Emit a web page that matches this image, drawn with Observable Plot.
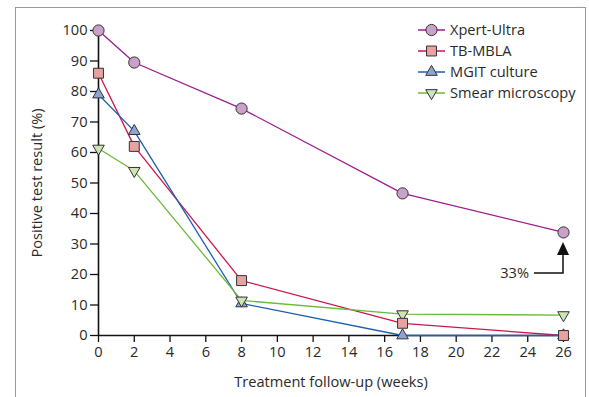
<!DOCTYPE html>
<html><head><meta charset="utf-8">
<script src="https://cdn.jsdelivr.net/npm/d3@7"></script>
<script src="https://cdn.jsdelivr.net/npm/@observablehq/plot@0.6"></script>
<style>
body{margin:0;background:#fff;}
#wrap{position:relative;width:589px;height:397px;overflow:hidden;}
#frame{position:absolute;left:15px;top:7px;width:571px;height:400px;border:1.5px solid #d9799a;border-bottom:none;box-sizing:border-box;pointer-events:none;}
#wrap svg{position:absolute;left:0;top:0;}
</style></head><body><div id="wrap"><div id="frame"></div></div>
<script>
const weeks = [0, 2, 8, 17, 26];
const seriesNames = ["Xpert-Ultra", "TB-MBLA", "MGIT culture", "Smear microscopy"];
const xpertUltra = [100, 89.5, 74.4, 46.6, 33.8];
const tbMbla = [86, 62, 18, 4, 0];
const mgitCulture = [79, 67, 10.5, 0, 0];
const smearMicroscopy = [61.3, 54, 11.5, 7, 6.7];
const xTicks = [0, 2, 4, 6, 8, 10, 12, 14, 16, 18, 20, 22, 24, 26];
const yTicks = [0, 10, 20, 30, 40, 50, 60, 70, 80, 90, 100];
const xLabel = "Treatment follow-up (weeks)";
const yLabel = "Positive test result (%)";
const annotationLabel = "33%";

const lineColors = ["#9c1d8c", "#c9174d", "#1f5fb0", "#6bb83a"];
const fillColors = ["#c9a1c9", "#e8a3a0", "#8ea4d2", "#cde4b5"];
const triangleDown = {
  draw(context, size) {
    const y = -Math.sqrt(size / (Math.sqrt(3) * 3));
    context.moveTo(0, -y * 2);
    context.lineTo(-Math.sqrt(3) * y, y);
    context.lineTo(Math.sqrt(3) * y, y);
    context.closePath();
  }
};
const symbols = [d3.symbolCircle, d3.symbolSquare, d3.symbolTriangle, triangleDown];
const radii = [5.6, 5.6, 4.3, 4.3];
const valueLists = [xpertUltra, tbMbla, mgitCulture, smearMicroscopy];

const rows = [];
seriesNames.forEach((s, i) => weeks.forEach((w, j) => rows.push({series: s, week: w, value: valueLists[i][j]})));

const dotOrder = [2, 3, 1, 0];
const dotMarks = dotOrder.map(i => Plot.dot(rows.filter(d => d.series === seriesNames[i]), {
  x: "week", y: "value", symbol: symbols[i], r: radii[i],
  fill: fillColors[i], stroke: "#333", strokeWidth: 1
}));

const font = "'Open Sans', sans-serif";
const fs = 14.6;
const plot = Plot.plot({
  width: 589, height: 397,
  marginLeft: 98, marginRight: 26, marginTop: 30, marginBottom: 62,
  x: {domain: [0, 26]},
  y: {domain: [0, 100]},
  color: {domain: seriesNames, range: lineColors},
  style: {fontFamily: font, fontSize: fs + "px", color: "#2a2a2a", background: "none", overflow: "visible"},
  marks: [
    Plot.axisY({ticks: yTicks, tickSize: 8, tickPadding: 3, label: null, stroke: "#111", strokeWidth: 1.3, fill: "#2a2a2a"}),
    Plot.axisX({ticks: xTicks, tickSize: 7, tickPadding: 4, label: null, stroke: "#111", strokeWidth: 1.3, fill: "#2a2a2a"}),
    Plot.ruleX([0], {stroke: "#111", strokeWidth: 1.6}),
    Plot.ruleY([0], {stroke: "#111", strokeWidth: 1.6}),
    Plot.line(rows, {x: "week", y: "value", z: "series", stroke: "series", strokeWidth: 1.3}),
    ...dotMarks,
    Plot.text([xLabel], {text: d => d, frameAnchor: "bottom", lineAnchor: "middle", dy: 47, fill: "#2a2a2a"}),
    Plot.text([yLabel], {text: d => d, frameAnchor: "left", textAnchor: "middle", lineAnchor: "middle", rotate: -90, dx: -61, fill: "#2a2a2a"})
  ]
});
document.getElementById("wrap").insertBefore(plot, document.getElementById("frame"));

const svg = d3.select(plot);
// legend
const lg = svg.append("g").attr("transform", "translate(418,30)").attr("font-family", font).attr("font-size", fs).attr("text-anchor", "start");
seriesNames.forEach((s, i) => {
  const g = lg.append("g").attr("transform", `translate(0,${i * 21})`);
  g.append("line").attr("x1", 0).attr("x2", 27).attr("stroke", lineColors[i]).attr("stroke-width", 1.5);
  g.append("path").attr("d", d3.symbol(symbols[i], Math.PI * radii[i] * radii[i])())
    .attr("transform", "translate(13.5,0)").attr("fill", fillColors[i]).attr("stroke", "#333").attr("stroke-width", 1);
  g.append("text").attr("x", 32).attr("dy", "0.35em").attr("fill", "#2a2a2a").text(s);
});
// annotation
const xs = plot.scale("x"), ys = plot.scale("y");
const ax = xs.apply(weeks[4]), ay = ys.apply(xpertUltra[4]);
const ag = svg.append("g");
ag.append("path").attr("d", `M${ax - 29},${ay + 41}H${ax}V${ay + 21}`).attr("fill", "none").attr("stroke", "#111").attr("stroke-width", 1.5);
ag.append("path").attr("d", `M${ax},${ay + 10}L${ax - 6},${ay + 23}L${ax + 6},${ay + 23}Z`).attr("fill", "#111");
ag.append("text").attr("x", ax - 34).attr("y", ay + 41).attr("dy", "0.35em").attr("text-anchor", "end")
  .attr("font-family", font).attr("font-size", fs).attr("fill", "#2a2a2a").text(annotationLabel);
</script></body></html>
